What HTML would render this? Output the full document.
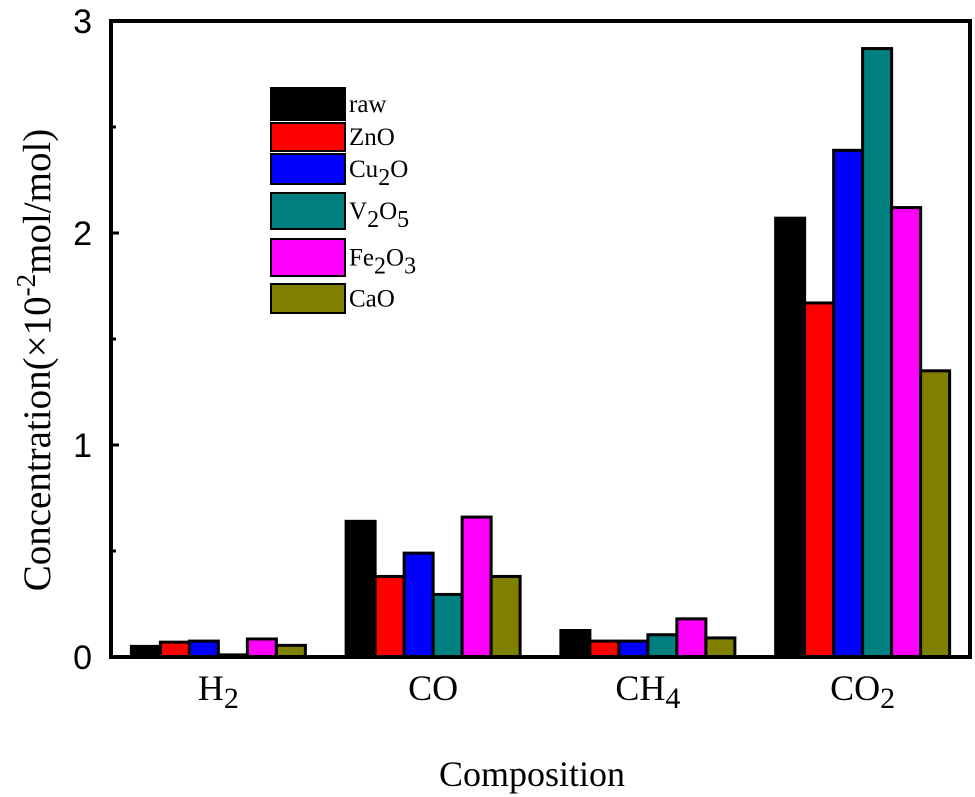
<!DOCTYPE html>
<html><head><meta charset="utf-8"><style>
body{margin:0;background:#fff}
svg{display:block;font-family:"Liberation Serif",serif}
</style></head><body>
<svg id="c" width="975" height="797">
<g id="bars"></g>
<rect x="111" y="21" width="859" height="636" fill="none" stroke="#000" stroke-width="4"/>
<g id="axes"></g>
<text x="532" y="786" font-size="36" text-anchor="middle">Composition</text>
<text transform="translate(50,360) rotate(-90)" font-size="39" text-anchor="middle">Concentration(×10<tspan dy="-15" font-size="27">-2</tspan><tspan dy="15">mol/mol)</tspan></text>
<g id="legend"></g>
</svg>
<script>
const categories=["H2","CO","CH4","CO2"];
const catLabels=[["H","2"],["CO",""],["CH","4"],["CO","2"]];
const seriesNames=["raw","ZnO","Cu2O","V2O5","Fe2O3","CaO"];
const colors=["#000000","#ff0000","#0000ff","#008080","#ff00ff","#808000"];
const raw=[0.05,0.64,0.125,2.07];
const ZnO=[0.07,0.38,0.075,1.67];
const Cu2O=[0.075,0.49,0.075,2.39];
const V2O5=[0.01,0.295,0.105,2.87];
const Fe2O3=[0.085,0.66,0.18,2.12];
const CaO=[0.055,0.38,0.09,1.35];
const series=[raw,ZnO,Cu2O,V2O5,Fe2O3,CaO];
const yTicks=[0,1,2,3];
const NS="http://www.w3.org/2000/svg";
const L=111,R=970,T=21,B=657,yMax=3;
const y=v=>B-(v/yMax)*(B-T);
const band=(R-L)/categories.length;
const bw=29;
const xc=i=>L+band*(i+0.5);
function mk(tag,attrs,parent){const e=document.createElementNS(NS,tag);for(const k in attrs)e.setAttribute(k,attrs[k]);parent.appendChild(e);return e;}
const gb=document.getElementById('bars');
categories.forEach((c,i)=>{series.forEach((s,j)=>{
 const x=xc(i)-3*bw+j*bw;
 const r=mk('rect',{x:x,y:y(s[i]),width:bw,height:B-y(s[i]),fill:colors[j],stroke:'#000','stroke-width':3},gb);
 
 
});});
const ga=document.getElementById('axes');
for(let v=0;v<=yMax;v+=0.5){
 const major=Number.isInteger(v);const len=major?8:5;
 mk('line',{x1:L,x2:L+len,y1:y(v),y2:y(v),stroke:'#000','stroke-width':3},ga);
}
yTicks.forEach(v=>{
 const t=mk('text',{x:92,y:y(v)+12,'font-size':34,'text-anchor':'end','font-family':'Liberation Sans, sans-serif'},ga);
 t.textContent=v;
 
 
});
categories.forEach((c,i)=>{
 const t=mk('text',{x:xc(i),y:700,'font-size':36,'text-anchor':'middle'},ga);
 
 
 const a=mk('tspan',{},t);a.textContent=catLabels[i][0];
 if(catLabels[i][1]){const b=mk('tspan',{dy:8,'font-size':30},t);b.textContent=catLabels[i][1];}
});
const gl=document.getElementById('legend');
const legRows=[[88,120],[123,151],[154,184],[193,229],[239,276],[284,313]];
const legLabels=[["raw"],["ZnO"],["Cu","2","O"],["V","2","O","5"],["Fe","2","O","3"],["CaO"]];
legRows.forEach((r,j)=>{
 const g=mk('g',{},gl);
 
 
 mk('rect',{x:271,y:r[0],width:74,height:r[1]-r[0],fill:colors[j],stroke:'#000','stroke-width':2},g);
 const t=mk('text',{x:349,y:(r[0]+r[1])/2+8,'font-size':25},g);
 legLabels[j].forEach((p,k)=>{const ts=mk('tspan',k%2?{dy:8,'font-size':24}:(k>0?{dy:-8}:{}),t);ts.textContent=p;});
});
</script>
</body></html>
